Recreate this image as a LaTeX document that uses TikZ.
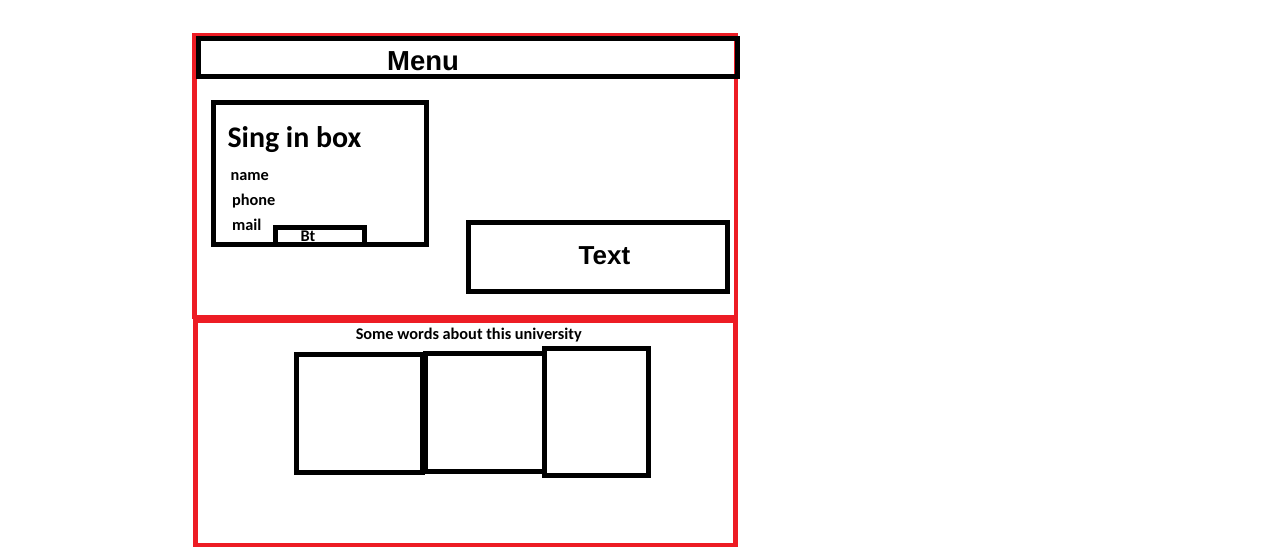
\documentclass[tikz,border=0pt]{standalone}
\usepackage{fontspec}
\newfontfamily\calfont{Carlito}
\newfontfamily\arfont{Liberation Sans}
\definecolor{pred}{HTML}{ED1C24}
\tikzset{
  redframe/.style={draw=pred, line width=4.6pt},
  blackframe/.style={draw=black, line width=5pt},
  bigar/.style={inner sep=0pt, outer sep=0pt, font=\arfont\bfseries\fontsize{26}{31}\selectfont},
  titlecal/.style={inner sep=0pt, outer sep=0pt, font=\calfont\bfseries\fontsize{29.9}{35}\selectfont},
  smallcal/.style={inner sep=0pt, outer sep=0pt, font=\calfont\bfseries\fontsize{16.3}{19}\selectfont}
}
\begin{document}
\begin{tikzpicture}[x=1pt, y=-1pt]
\useasboundingbox (0,0) rectangle (1281,559);
\fill[white] (0,0) rectangle (1281,559);
% red frames
\draw[redframe] (194.5,35.5) rectangle (736,317);
\draw[redframe] (195.5,320.5) rectangle (735.5,545);
% black boxes
\draw[blackframe] (198.5,38.5) rectangle (737,77);
\draw[blackframe] (213.5,103) rectangle (426,244.7);
\draw[blackframe] (275,227.7) rectangle (364,244.7);
\draw[blackframe] (468.5,222.5) rectangle (727,291.5);
\draw[blackframe] (296.5,354.3) rectangle (422.5,472);
\draw[blackframe] (425.5,353.3) rectangle (544.2,471.7);
\draw[blackframe] (544.5,348.5) rectangle (648.5,475);
% texts
\node[bigar, anchor=base, font=\arfont\bfseries\fontsize{27.5}{32}\selectfont] (menu) at (423,70.8) {Menu};
\node[bigar, anchor=base] (text) at (604.5,264.5) {Text};
\node[titlecal, anchor=base west] (sign) at (227.5,147.2) {Sing in box};
\node[smallcal, anchor=base west] (name) at (230.5,180) {name};
\node[smallcal, anchor=base west] (phone) at (232,205) {phone};
\node[smallcal, anchor=base west] (mail) at (232,230.3) {mail};
\node[smallcal, anchor=base] (bt) at (308,241.5) {Bt};
\node[smallcal, anchor=base] (words) at (468.7,339.8) {Some words about this university};
\end{tikzpicture}
\end{document}
